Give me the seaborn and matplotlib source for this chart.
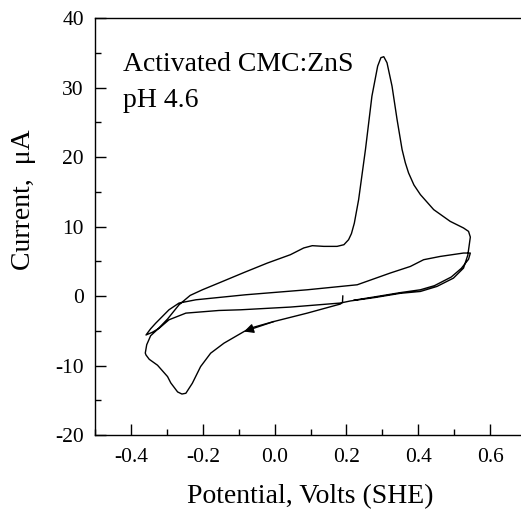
import numpy as np
import pandas as pd
import matplotlib
matplotlib.use("Agg")
import matplotlib.pyplot as plt
import seaborn as sns

# Cyclic voltammogram (trace in scan order)
potential = [
    # cycle 1, cathodic scan from the start point
    0.190, 0.189, 0.183, 0.172, 0.091, -0.002, -0.067, -0.085, -0.141, -0.178,
    -0.206, -0.229, -0.247, -0.258, -0.270, -0.289, -0.298, -0.326, -0.349, -0.358,
    -0.360,
    # cycle 1, anodic scan
    -0.356, -0.345, -0.326, -0.298, -0.266, -0.235, -0.201, -0.150, -0.085, -0.020,
    0.044, 0.081, 0.105, 0.137, 0.174, 0.193, 0.206, 0.214, 0.222, 0.234, 0.253,
    0.271, 0.287, 0.296, 0.304, 0.313, 0.327, 0.341, 0.355, 0.364, 0.373, 0.388,
    0.406, 0.443, 0.489, 0.526, 0.540, 0.545,
    # cycle 2, cathodic scan
    0.541, 0.538, 0.526, 0.498, 0.452, 0.406, 0.350, 0.280, 0.211, 0.183,
    0.044, -0.094, -0.155, -0.247, -0.294, -0.321, -0.340, -0.358,
    # cycle 2, anodic scan
    -0.345, -0.331, -0.294, -0.266, -0.219, -0.081, 0.091, 0.230, 0.322, 0.378,
    0.415, 0.461, 0.526, 0.545,
    # final cathodic return
    0.540, 0.520, 0.492, 0.445, 0.406, 0.350, 0.280, 0.220,
]
current = [
    0.05, -0.90, -1.15, -1.30, -2.45, -3.66, -4.61, -5.10, -6.78, -8.22,
    -10.15, -12.55, -13.99, -14.10, -13.80, -12.50, -11.59, -9.95, -9.10, -8.48,
    -8.20,
    -7.00, -5.70, -4.80, -3.30, -1.25, 0.10, 0.91, 2.00, 3.40, 4.76,
    5.96, 6.93, 7.26, 7.16, 7.16, 7.40, 8.12, 9.00, 10.50, 13.89, 21.10,
    28.79, 33.11, 34.33, 34.47, 33.60, 30.23, 25.43, 21.10, 19.20, 17.74, 16.00,
    14.61, 12.45, 10.76, 9.81, 9.32, 8.50,
    7.00, 5.90, 4.03, 2.59, 1.39, 0.67, 0.40, -0.20, -0.70, -1.00,
    -1.58, -1.97, -2.07, -2.45, -3.41, -4.61, -5.20, -5.60,
    -4.70, -3.90, -1.97, -1.00, -0.53, 0.19, 0.91, 1.63, 3.32, 4.27,
    5.24, 5.71, 6.20, 6.20,
    5.30, 4.00, 2.75, 1.50, 0.91, 0.50, -0.10, -0.60,
]

x_ticks = [-0.4, -0.2, 0.0, 0.2, 0.4, 0.6]
x_ticklabels = ["-0.4", "-0.2", "0.0", "0.2", "0.4", "0.6"]
y_ticks = [-20, -10, 0, 10, 20, 30, 40]
y_ticklabels = ["-20", "-10", "0", "10", "20", "30", "40"]

df = pd.DataFrame({"potential": potential, "current": current})

sns.set_style("ticks")
plt.rcParams["font.family"] = ["Liberation Serif", "DejaVu Serif"]
plt.rcParams["axes.unicode_minus"] = False
plt.rcParams["text.color"] = "black"
plt.rcParams["axes.labelcolor"] = "black"
plt.rcParams["xtick.color"] = "black"
plt.rcParams["ytick.color"] = "black"

fig = plt.figure(figsize=(5.21, 5.18), dpi=100)
ax = fig.add_axes([95 / 521, 1 - 435 / 518, 431 / 521, 416.7 / 518])

sns.lineplot(data=df, x="potential", y="current", sort=False, estimator=None,
             color="black", linewidth=1.0, ax=ax)

# direction arrow on the first cathodic sweep
ax.annotate("", xy=(potential[7], current[7]), xytext=(potential[5], current[5]),
            arrowprops=dict(arrowstyle="-|>", color="black", lw=1.0,
                            mutation_scale=14, shrinkA=0, shrinkB=0))

ax.set_xlim(-0.5, 0.7)
ax.set_ylim(-20, 40)
ax.set_xticks(x_ticks)
ax.set_xticklabels(x_ticklabels)
ax.set_yticks(y_ticks)
ax.set_yticklabels(y_ticklabels)
ax.set_xticks(np.arange(-0.5, 0.71, 0.1), minor=True)
ax.set_yticks(np.arange(-20, 41, 5), minor=True)

ax.tick_params(which="both", direction="in", top=False, right=False,
               labelsize=15.5, width=1.0, color="black", labelcolor="black")
ax.tick_params(which="major", length=8)
ax.tick_params(which="minor", length=4)
ax.tick_params(axis="x", pad=9)
ax.tick_params(axis="y", pad=8)

for side in ["left", "bottom", "top"]:
    ax.spines[side].set_linewidth(1.0)
    ax.spines[side].set_color("black")
ax.spines["right"].set_visible(False)

ax.set_xlabel("Potential, Volts (SHE)", fontsize=20, color="black")
ax.set_ylabel("Current,  \u03bcA", fontsize=20, color="black")
ax.xaxis.label.set_va("center")
ax.yaxis.label.set_va("center")
ax.xaxis.set_label_coords(0.499, -0.149)
ax.yaxis.set_label_coords(-0.165, 0.564)

ax.text(-0.422, 32.35, "Activated CMC:ZnS", fontsize=20, va="baseline", color="black")
ax.text(-0.422, 27.3, "pH 4.6", fontsize=20, va="baseline", color="black")

fig.savefig("out.png", dpi=100)
plt.close(fig)
